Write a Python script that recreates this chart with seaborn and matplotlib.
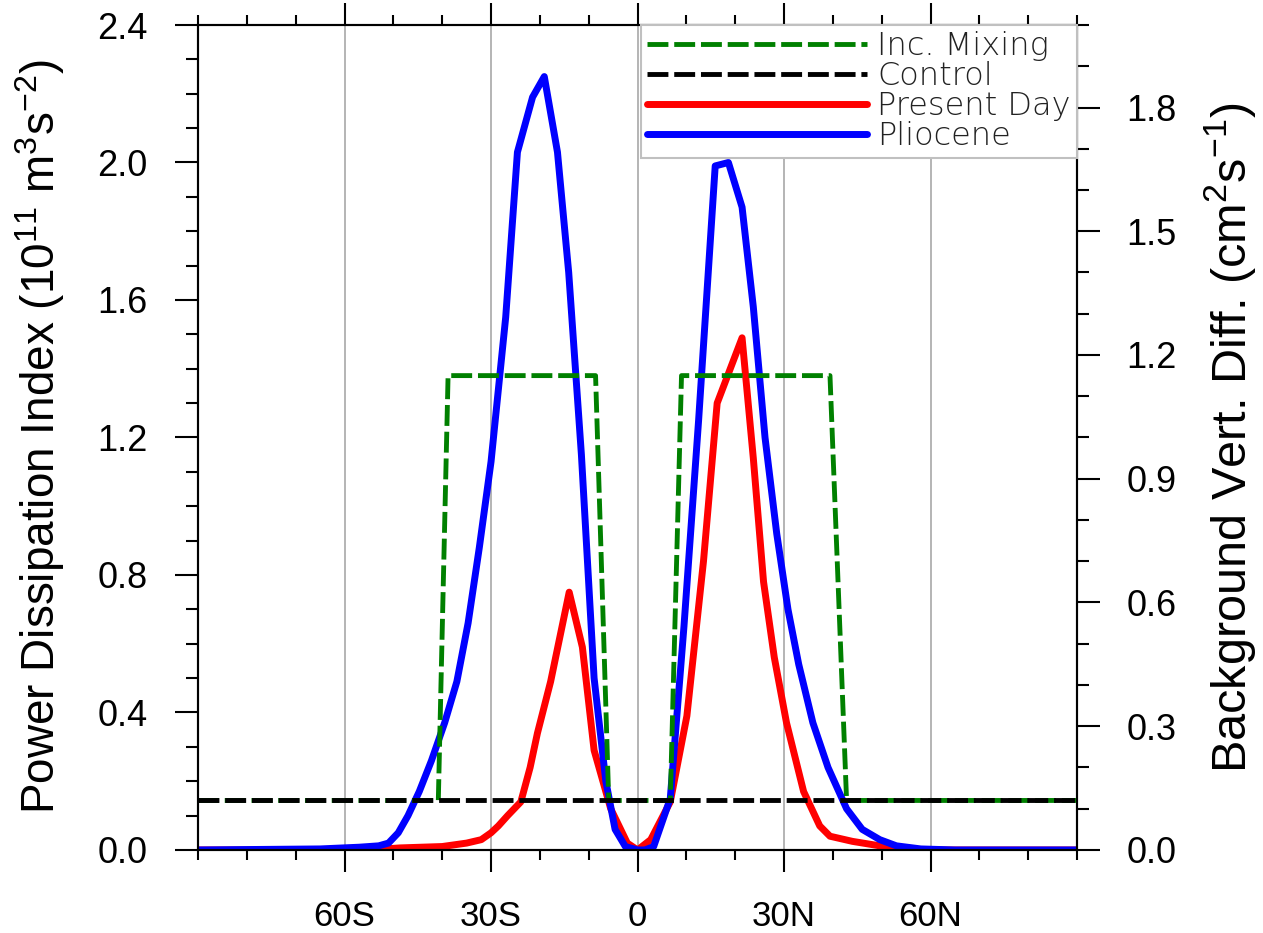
import numpy as np
import pandas as pd
import seaborn as sns
import matplotlib.pyplot as plt
from matplotlib.ticker import FixedLocator, MultipleLocator, FormatStrFormatter

# zonal profiles (latitude in degrees, negative = south)
plio_lat = [-90, -65, -57, -53, -51, -49, -47, -44.7, -42.2, -39.5, -37, -34.7, -32.4, -30,
            -27, -24.6, -21.5, -19.1, -16.4, -14.1, -11.5, -8.9, -6.5, -4.6, -2.5, 0,
            1.5, 3.3, 6.7, 9.5, 12.5, 15.9, 18.6, 21.4, 23.7, 26.1, 28.5, 30.8, 33, 35.9,
            39, 42.8, 46, 49.6, 53, 58, 65, 90]
plio_pdi = [0.0, 0.003, 0.008, 0.012, 0.02, 0.05, 0.10, 0.17, 0.26, 0.37, 0.49, 0.66, 0.88, 1.13,
            1.55, 2.03, 2.19, 2.25, 2.03, 1.68, 1.15, 0.50, 0.20, 0.06, 0.01, 0.0,
            0.0, 0.01, 0.15, 0.65, 1.25, 1.99, 2.00, 1.87, 1.58, 1.20, 0.92, 0.70, 0.54, 0.37,
            0.24, 0.12, 0.06, 0.03, 0.012, 0.003, 0.0, 0.0]

pd_lat = [-90, -55, -48.6, -40, -35, -32, -30, -28.5, -26.6, -23.9, -22, -20.5, -17.8, -14,
          -11.3, -8.9, -5.5, -2.1, 0, 2.7, 6.7, 10.1, 13.5, 16.3, 21.4, 23.7, 25.8, 28,
          30.5, 34, 37.3, 39.4, 44, 49.6, 55, 60, 90]
pd_pdi = [0.0, 0.0, 0.006, 0.01, 0.02, 0.03, 0.05, 0.07, 0.10, 0.14, 0.24, 0.34, 0.49, 0.75,
          0.59, 0.29, 0.12, 0.02, 0.0, 0.03, 0.14, 0.39, 0.84, 1.30, 1.49, 1.14, 0.78, 0.56,
          0.37, 0.17, 0.07, 0.04, 0.025, 0.012, 0.003, 0.0, 0.0]

mix_lat = [-90, -40.8, -38.8, -8.6, -5.9, 6.7, 9.0, 39.4, 42.8, 90]
mix_kv = [0.12, 0.12, 1.15, 1.15, 0.12, 0.12, 1.15, 1.15, 0.12, 0.12]

ctl_lat = [-90, 90]
ctl_kv = [0.12, 0.12]

xticks = [-60, -30, 0, 30, 60]
xlabels = ["60S", "30S", "0", "30N", "60N"]

sns.set_theme(style="white")
plt.rcParams['font.family'] = ['Liberation Sans', 'DejaVu Sans']
plt.rcParams['mathtext.default'] = 'regular'
plt.rcParams['text.color'] = 'black'
plt.rcParams['xtick.color'] = 'black'
plt.rcParams['ytick.color'] = 'black'
plt.rcParams['axes.unicode_minus'] = False

fig = plt.figure(figsize=(12.63, 9.33), dpi=100)
ax = fig.add_axes([0.1568, 0.0890, 0.696, 0.8842])

sns.lineplot(x=pd_lat, y=pd_pdi, ax=ax, color='red', lw=5, sort=False)
sns.lineplot(x=plio_lat, y=plio_pdi, ax=ax, color='blue', lw=5, sort=False)
ax.set_xlim(-90, 90)
ax.set_ylim(0, 2.4)

ax2 = ax.twinx()
sns.lineplot(x=mix_lat, y=mix_kv, ax=ax2, color='green', lw=3.5, sort=False,
             linestyle=(0, (4.3, 1.2)))
sns.lineplot(x=ctl_lat, y=ctl_kv, ax=ax2, color='black', lw=3.5, sort=False,
             linestyle=(0, (4.3, 1.2)))
ax2.set_ylim(0, 2.0)

# grid and ticks
ax.xaxis.set_major_locator(FixedLocator(xticks))
ax.set_xticklabels(xlabels)
ax.xaxis.set_minor_locator(MultipleLocator(10))
ax.grid(axis='x', which='major', color='#a8a8a8', lw=1.2)
ax.set_axisbelow(True)

ax.yaxis.set_major_locator(MultipleLocator(0.4))
ax.yaxis.set_minor_locator(MultipleLocator(0.1))
ax.yaxis.set_major_formatter(FormatStrFormatter('%.1f'))
ax2.yaxis.set_major_locator(MultipleLocator(0.3))
ax2.yaxis.set_minor_locator(MultipleLocator(0.1))
ax2.yaxis.set_major_formatter(FormatStrFormatter('%.1f'))

ax.tick_params(axis='x', which='major', direction='out', length=16, width=1.5,
               pad=20, labelsize=25, top=True, bottom=True, colors='black')
ax.tick_params(axis='x', which='minor', direction='out', length=7.5, width=1.5,
               top=True, bottom=True, colors='black')
ax.tick_params(axis='y', which='major', direction='out', length=16.5, width=1.5,
               pad=20, labelsize=26, left=True, right=False, colors='black')
ax.tick_params(axis='y', which='minor', direction='out', length=8.5, width=1.5,
               left=True, right=False)
ax2.tick_params(axis='y', which='major', direction='out', length=16.5, width=1.5,
                pad=19, labelsize=26, right=True, colors='black')
ax2.tick_params(axis='y', which='minor', direction='out', length=8.5, width=1.5,
                right=True)

for a in (ax, ax2):
    for s in a.spines.values():
        s.set_color('black')
        s.set_linewidth(1.5)

ax.set_ylabel('')
ax2.set_ylabel('')
fig.text(40 / 1263, 1 - 437 / 933, 'Power Dissipation Index (10$^{11}$ m$^{3}$s$^{-2}$)',
         rotation=90, ha='center', va='center', fontsize=33)
fig.text(1230 / 1263, 1 - 438 / 933, 'Background Vert. Diff. (cm$^{2}$s$^{-1}$)',
         rotation=90, ha='center', va='center', fontsize=35)

# legend
l_pd, l_plio = ax.lines[0], ax.lines[1]
l_mix, l_ctl = ax2.lines[0], ax2.lines[1]
leg = ax2.legend([l_mix, l_ctl, l_pd, l_plio],
                 ['Inc. Mixing', 'Control', 'Present Day', 'Pliocene'],
                 loc='upper right', bbox_to_anchor=(1, 1), borderaxespad=0,
                 frameon=True, fancybox=False, framealpha=1, edgecolor='#c0c0c0',
                 prop={'family': 'DejaVu Sans', 'weight': 'light', 'size': 23},
                 handlelength=6.9, handletextpad=0.3, labelspacing=0.0, borderpad=0.2)
leg.get_frame().set_linewidth(1.5)
for t in leg.get_texts():
    t.set_color('#222222')

fig.savefig('out.png', dpi=100)
